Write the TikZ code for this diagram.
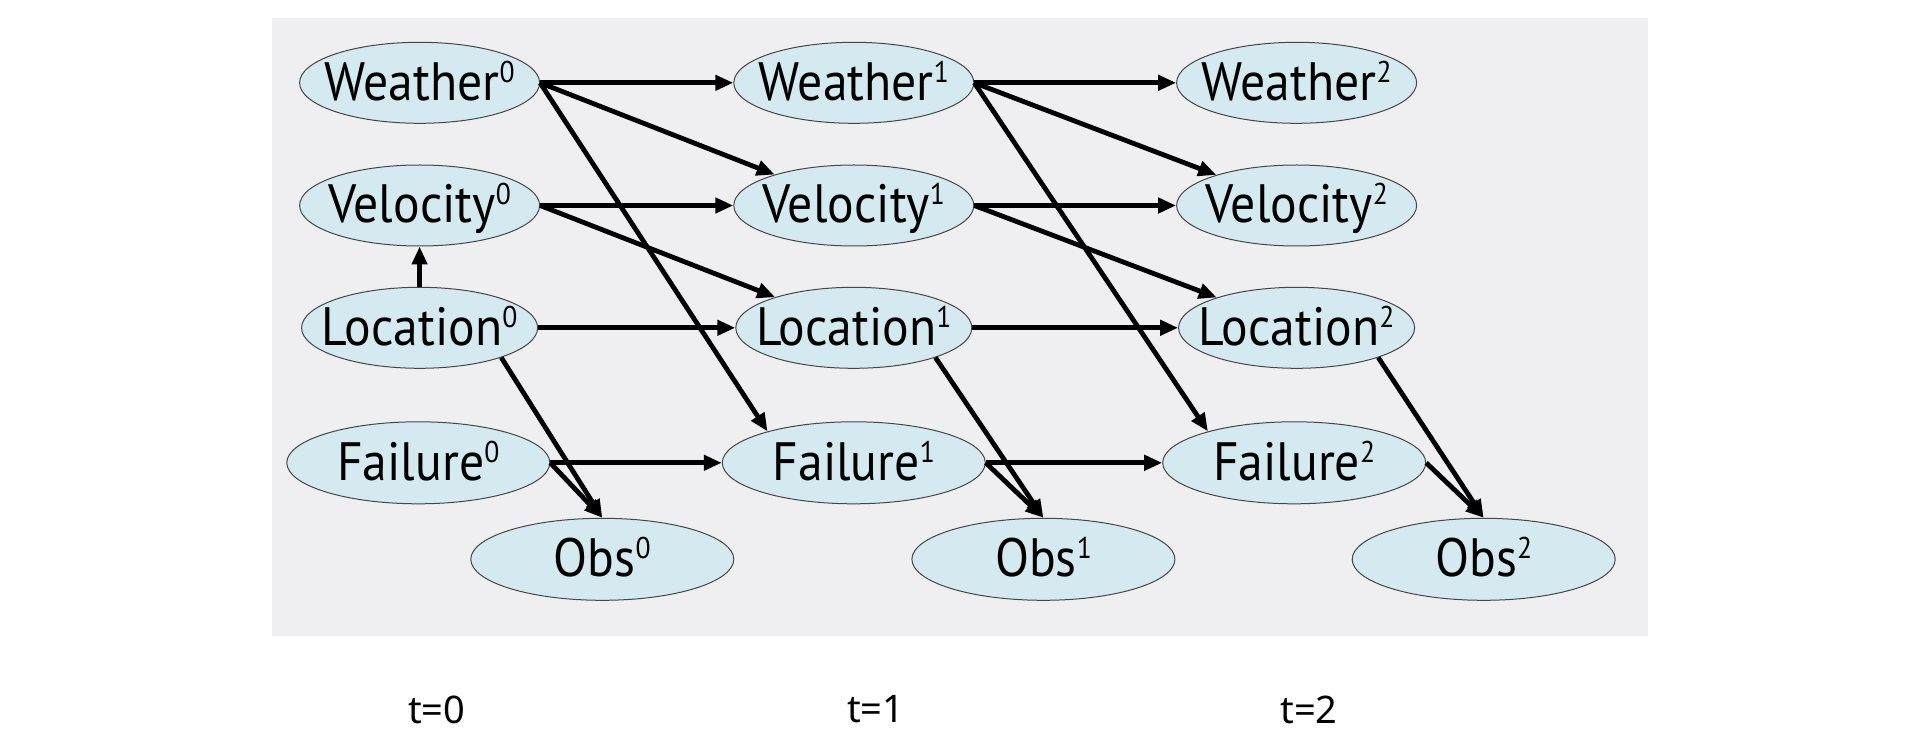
\documentclass[tikz,border=0pt]{standalone}
\usepackage{fontspec}
\setmainfont{PT Sans}
\newfontfamily\nodefont[FakeStretch=0.92]{PT Sans}
\newfontfamily\tfont{Noto Sans}
\usetikzlibrary{shapes.geometric,arrows.meta}
\definecolor{bggray}{RGB}{239,238,241}
\definecolor{nodefill}{RGB}{212,234,240}
\definecolor{nodeline}{RGB}{70,70,70}
\newcommand\sups[1]{\raisebox{9pt}{\fontsize{15}{15}\selectfont #1}}
\newcommand\lbl[1]{\makebox[0pt]{\smash{\raisebox{-8.75pt}{#1}}}}
\tikzset{
  var/.style={ellipse, draw=nodeline, line width=0.5pt, fill=nodefill, inner sep=0pt,
    minimum width=120pt, minimum height=40.5pt, font=\nodefont\fontsize{27}{30}\selectfont},
  widevar/.style={var, minimum width=131.5pt, minimum height=41pt},
  arr/.style={line width=2.4pt, -{Triangle[length=9pt,width=7.5pt]}},
  tlabel/.style={font=\tfont\fontsize{19}{22}\selectfont, inner sep=0pt}
}
\begin{document}
\begin{tikzpicture}[x=0.5pt,y=-0.5pt]
\useasboundingbox (0,0) rectangle (1918,754);
\fill[white] (0,0) rectangle (1918,754);
\fill[bggray] (272,18) rectangle (1648,636);
% time slice 0
\node[var] (W0) at (419.6,82.8) {\lbl{Weather\sups{0}}};
\node[var] (V0) at (419.6,205.5) {\lbl{Velocity\sups{0}}};
\node[var, minimum width=118pt] (L0) at (419.6,327.8) {\lbl{Location\sups{0}}};
\node[widevar] (F0) at (418.3,462.8) {\lbl{Failure\sups{0}}};
\node[widevar] (O0) at (602.3,559.3) {\lbl{Obs\sups{0}}};
% time slice 1
\node[var] (W1) at (853.8,82.8) {\lbl{Weather\sups{1}}};
\node[var] (V1) at (853.8,205.5) {\lbl{Velocity\sups{1}}};
\node[var, minimum width=118pt] (L1) at (853.8,327.8) {\lbl{Location\sups{1}}};
\node[widevar] (F1) at (853.8,462.8) {\lbl{Failure\sups{1}}};
\node[widevar] (O1) at (1043.4,559.3) {\lbl{Obs\sups{1}}};
% time slice 2
\node[var] (W2) at (1296.6,82.8) {\lbl{Weather\sups{2}}};
\node[var] (V2) at (1296.6,205.5) {\lbl{Velocity\sups{2}}};
\node[var, minimum width=118pt] (L2) at (1296.6,327.8) {\lbl{Location\sups{2}}};
\node[widevar] (F2) at (1294.2,462.8) {\lbl{Failure\sups{2}}};
\node[widevar] (O2) at (1483.7,559.3) {\lbl{Obs\sups{2}}};
% arrows 0 -> 1
\draw[arr] (W0.east) -- (W1.west);
\draw[arr] (W0.east) -- (V1);
\draw[arr] (W0.east) -- (F1.160);
\draw[arr] (V0.east) -- (V1.west);
\draw[arr] (V0.east) -- (L1);
\draw[arr] (L0.east) -- (L1.west);
\draw[arr] (L0.north) -- (V0.south);
\draw[arr] (L0.-20) -- (O0.north);
\draw[arr] (F0.east) -- (F1.west);
\draw[arr] (F0.east) -- (O0.north);
% arrows 1 -> 2
\draw[arr] (W1.east) -- (W2.west);
\draw[arr] (W1.east) -- (V2);
\draw[arr] (W1.east) -- (F2.160);
\draw[arr] (V1.east) -- (V2.west);
\draw[arr] (V1.east) -- (L2);
\draw[arr] (L1.east) -- (L2.west);
\draw[arr] (L1.-20) -- (O1.north);
\draw[arr] (F1.east) -- (F2.west);
\draw[arr] (F1.east) -- (O1.north);
% slice 2 observations
\draw[arr] (L2.-20) -- (O2.north);
\draw[arr] (F2.east) -- (O2.north);
% time labels
\node[tlabel] (T0) at (436.7,709.5) {t=0};
\node[tlabel] (T1) at (875.8,709.5) {t=1};
\node[tlabel] (T2) at (1309,709.5) {t=2};
\end{tikzpicture}
\end{document}
